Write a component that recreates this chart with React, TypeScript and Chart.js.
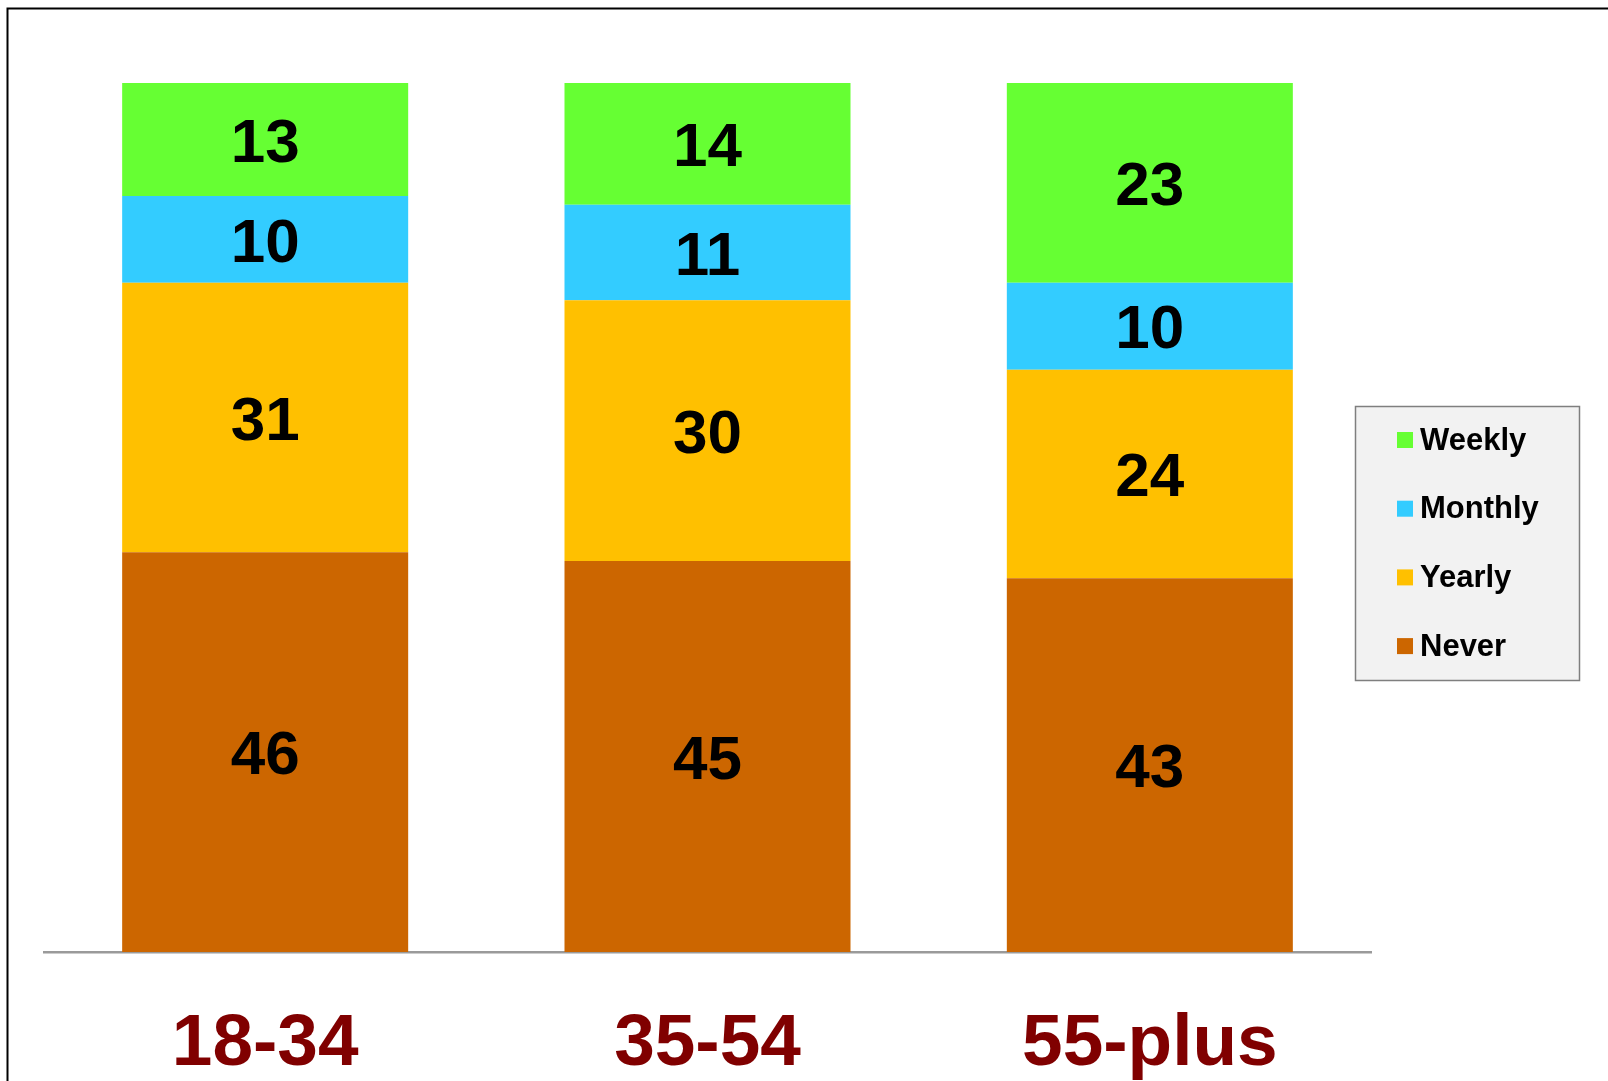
import React, { useEffect, useRef } from "react";
import { Chart, registerables } from "chart.js";

Chart.register(...registerables);

const categories = ["18-34", "35-54", "55-plus"];
const never = [46, 45, 43];
const yearly = [31, 30, 24];
const monthly = [10, 11, 10];
const weekly = [13, 14, 23];
const seriesNames = ["Never", "Yearly", "Monthly", "Weekly"];
const seriesColors = ["#CC6600", "#FFC000", "#33CCFF", "#66FF33"];

const FONT = "'Liberation Sans', Arial, sans-serif";

const valueLabels = {
  id: "valueLabels",
  afterDatasetsDraw(chart: any) {
    const ctx = chart.ctx;
    ctx.save();
    ctx.font = `bold 62px ${FONT}`;
    ctx.fillStyle = "#000000";
    ctx.textAlign = "center";
    ctx.textBaseline = "middle";
    chart.data.datasets.forEach((ds: any, i: number) => {
      const meta = chart.getDatasetMeta(i);
      meta.data.forEach((el: any, j: number) => {
        const p = el.getProps(["x", "y", "base"], true);
        ctx.fillText(String(ds.data[j]), p.x, (p.y + p.base) / 2 + 5);
      });
    });
    ctx.restore();
  },
};

const boxLegend = {
  id: "boxLegend",
  afterDraw(chart: any) {
    const ctx = chart.ctx;
    ctx.save();
    // outer frame (top and left)
    ctx.strokeStyle = "#000000";
    ctx.lineWidth = 2;
    ctx.beginPath();
    ctx.moveTo(7.5, chart.height);
    ctx.lineTo(7.5, 8.5);
    ctx.lineTo(chart.width, 8.5);
    ctx.stroke();

    // legend box
    const bx = 1355, by = 406, bw = 224, bh = 274;
    ctx.fillStyle = "#F2F2F2";
    ctx.fillRect(bx, by, bw, bh);
    ctx.strokeStyle = "#7F7F7F";
    ctx.lineWidth = 1.5;
    ctx.strokeRect(bx + 0.5, by + 0.5, bw, bh);

    const ds = chart.data.datasets.slice().reverse();
    ctx.font = `bold 31px ${FONT}`;
    ctx.textAlign = "left";
    ctx.textBaseline = "middle";
    ds.forEach((d: any, i: number) => {
      const cy = 441 + i * 68.7;
      ctx.fillStyle = d.backgroundColor;
      ctx.fillRect(1397, cy - 9, 16, 16);
      ctx.fillStyle = "#000000";
      ctx.fillText(d.label, 1420, cy);
    });
    ctx.restore();
  },
};

export default function App() {
  const ref = useRef<HTMLCanvasElement>(null);
  useEffect(() => {
    document.body.style.margin = "0";
    document.body.style.overflow = "hidden";
    const values = [never, yearly, monthly, weekly];
    const chart = new Chart(ref.current as HTMLCanvasElement, {
      type: "bar",
      data: {
        labels: categories,
        datasets: values.map((v, i) => ({
          label: seriesNames[i],
          data: v,
          backgroundColor: seriesColors[i],
          borderWidth: 0,
          barPercentage: 0.6466,
          categoryPercentage: 1,
        })),
      },
      options: {
        animation: false,
        responsive: false,
        devicePixelRatio: 1,
        layout: { padding: { left: 44, right: 237, top: 83, bottom: 0 } },
        plugins: { legend: { display: false }, tooltip: { enabled: false } },
        scales: {
          x: {
            stacked: true,
            grid: { display: false, drawTicks: false },
            border: { display: true, color: "#9A9A9A", width: 2.5 },
            ticks: {
              color: "#800000",
              padding: 56,
              font: { family: FONT, size: 73, weight: "bold", lineHeight: 1 },
            },
            afterFit: (s: any) => {
              s.height = 129;
            },
          },
          y: {
            stacked: true,
            display: false,
            min: 0,
            max: 100,
          },
        },
      },
      plugins: [valueLabels, boxLegend],
    } as any);
    return () => chart.destroy();
  }, []);
  return (
    <canvas
      ref={ref}
      width={1608}
      height={1081}
      style={{ position: "fixed", left: 0, top: 0, width: 1608, height: 1081, background: "#ffffff" }}
    />
  );
}
